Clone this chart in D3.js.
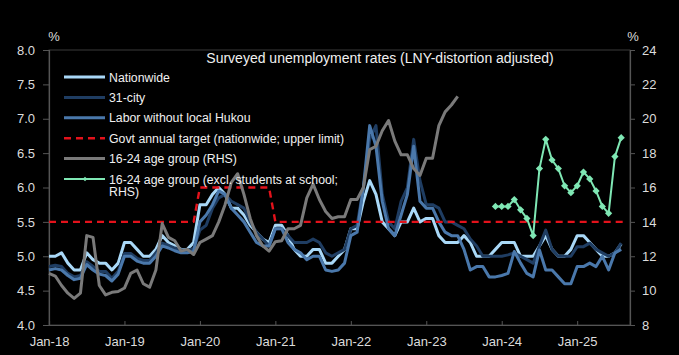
<!DOCTYPE html>
<html><head><meta charset="utf-8">
<script src="https://cdn.jsdelivr.net/npm/d3@7/dist/d3.min.js"></script>
<style>body{margin:0;background:#000;}svg{display:block;}</style>
</head><body>
<svg id="chart" width="679" height="355"></svg>
<script>
// ---------- DATA (monthly, Jan-18 onward) ----------
const months = d3.timeMonth.range(new Date(2018,0,1), new Date(2025,9,1)); // Jan-18 .. Sep-25
const xTickLabels = ["Jan-18","Jan-19","Jan-20","Jan-21","Jan-22","Jan-23","Jan-24","Jan-25"];
const leftTicks = [4.0,4.5,5.0,5.5,6.0,6.5,7.0,7.5,8.0];
const rightTicks = [8,10,12,14,16,18,20,22,24];

const nationwide = [
 5.0,5.0,5.05,4.9,4.8,4.8,5.05,4.95,4.9,4.9,4.8,4.9,
 5.2,5.2,5.1,5.0,5.0,5.1,5.3,5.2,5.15,5.1,5.1,5.2,
 5.75,5.75,5.9,6.0,5.9,5.7,5.7,5.6,5.45,5.35,5.25,5.2,
 5.45,5.45,5.3,5.1,5.0,5.0,5.1,5.1,4.9,4.9,5.0,5.1,
 5.4,5.4,5.8,6.1,5.9,5.5,5.4,5.3,5.5,5.5,5.7,5.5,
 5.55,5.55,5.3,5.2,5.2,5.2,5.3,5.2,5.0,5.0,5.0,5.1,
 5.2,5.2,5.2,5.0,5.0,5.0,5.15,5.3,5.1,5.0,5.0,5.1,
 5.3,5.3,5.2,5.1,5.0,5.0,5.05,5.18];
const city31 = [
 4.85,4.87,4.85,4.75,4.7,4.72,4.92,4.85,4.78,4.78,4.68,4.78,
 5.04,5.04,4.97,4.94,4.94,5.05,5.19,5.16,5.12,5.09,5.09,5.11,
 5.38,5.45,5.7,5.85,5.9,5.8,5.75,5.7,5.5,5.35,5.25,5.15,
 5.4,5.4,5.3,5.2,5.2,5.2,5.25,5.2,5.05,5.0,5.05,5.1,
 5.4,5.45,6.0,6.7,6.9,5.9,5.5,5.4,5.8,6.0,6.7,6.1,
 5.75,5.75,5.7,5.5,5.5,5.45,5.4,5.25,5.15,5.0,5.0,5.0,
 5.0,5.02,5.05,5.0,4.95,4.9,5.15,5.38,5.1,5.0,5.0,5.0,
 5.14,5.14,5.19,5.1,5.05,5.0,5.05,5.19];
const migrant = [
 4.8,4.82,4.8,4.72,4.66,4.68,4.88,4.8,4.74,4.72,4.64,4.74,
 5.0,5.0,4.93,4.9,4.9,5.0,5.15,5.12,5.08,5.05,5.05,5.07,
 5.5,5.6,5.75,5.95,5.9,5.7,5.6,5.5,5.35,5.2,5.15,5.15,
 5.4,5.4,5.2,5.1,5.05,4.95,5.0,5.0,4.8,4.78,4.8,4.9,
 5.3,5.35,6.0,6.9,6.6,5.8,5.4,5.3,5.6,5.9,6.6,5.8,
 5.7,5.7,5.5,5.35,5.3,5.3,5.1,4.8,4.85,4.85,4.7,4.7,
 4.72,4.75,5.07,4.9,4.75,4.7,5.09,4.8,4.8,4.7,4.6,4.6,
 4.85,4.85,4.9,4.85,5.0,4.8,5.05,5.1];
const target = [
 5.5,5.5,5.5,5.5,5.5,5.5,5.5,5.5,5.5,5.5,5.5,5.5,
 5.5,5.5,5.5,5.5,5.5,5.5,5.5,5.5,5.5,5.5,5.5,5.5,
 6.0,6.0,6.0,6.0,6.0,6.0,6.0,6.0,6.0,6.0,6.0,6.0,
 5.5,5.5,5.5,5.5,5.5,5.5,5.5,5.5,5.5,5.5,5.5,5.5,
 5.5,5.5,5.5,5.5,5.5,5.5,5.5,5.5,5.5,5.5,5.5,5.5,
 5.5,5.5,5.5,5.5,5.5,5.5,5.5,5.5,5.5,5.5,5.5,5.5,
 5.5,5.5,5.5,5.5,5.5,5.5,5.5,5.5,5.5,5.5,5.5,5.5,
 5.5,5.5,5.5,5.5,5.5,5.5,5.5,5.5,5.5];
const youth = [ // Jan-18 .. Jun-23, RHS
 11.0,10.85,10.3,9.85,9.55,9.85,13.2,13.1,10.3,9.75,9.9,9.95,
 10.15,11.0,11.2,10.4,10.2,11.2,13.9,13.1,12.9,12.3,12.4,12.1,
 12.8,13.0,13.2,14.0,15.0,16.3,16.8,15.6,14.2,13.2,12.6,12.3,
 12.85,12.9,13.6,13.6,13.8,15.4,16.2,15.3,14.6,14.2,14.3,14.3,
 15.3,15.3,16.0,18.2,18.4,19.3,19.9,18.7,17.9,17.9,17.1,16.7,
 17.7,17.7,19.6,20.4,20.8,21.3];
const youthExStudentsStart = 71; // Dec-23
const youthExStudents = [ // Dec-23 .. Aug-25, RHS
 14.9,14.9,14.9,15.3,14.7,14.2,13.2,17.1,18.8,17.6,17.1,16.1,
 15.7,16.1,16.9,16.5,15.8,14.9,14.5,17.8,18.9];

const legendLabels = ["Nationwide","31-city","Labor without local Hukou",
 "Govt annual target (nationwide; upper limit)","16-24 age group (RHS)",
 ["16-24 age group (excl. students at school;","RHS)"]];

// ---------- STYLE ----------
const C = {nat:"#a9d8f7", city:"#1f3d62", mig:"#4a78ab", tgt:"#e3121b", youth:"#7a7a7a", yx:"#7fe7b4"};
const font = "'Liberation Sans', Arial, sans-serif";

const svg = d3.select("#chart");
svg.append("rect").attr("width",679).attr("height",355).attr("fill","#000");

const x = d3.scaleLinear().domain([0, 92.4]).range([49, 630]);
const yL = d3.scaleLinear().domain([4, 8]).range([325, 50]);
const yR = d3.scaleLinear().domain([8, 24]).range([325, 50]);

// plot frame
svg.append("rect").attr("x",49).attr("y",50).attr("width",581).attr("height",275)
  .attr("fill","none").attr("stroke","#3a3a3a").attr("stroke-width",1);

// axes
const axL = svg.append("g").attr("transform","translate(49,0)")
  .call(d3.axisLeft(yL).tickValues(leftTicks).tickFormat(d3.format(".1f")).tickSize(6).tickPadding(8));
const axR = svg.append("g").attr("transform","translate(630,0)")
  .call(d3.axisRight(yR).tickValues(rightTicks).tickFormat(d3.format("d")).tickSize(5).tickPadding(7));
const tickIdx = xTickLabels.map((d,i)=>i*12);
const axB = svg.append("g").attr("transform","translate(0,325)")
  .call(d3.axisBottom(x).tickValues(tickIdx).tickFormat((d,i)=>xTickLabels[i]).tickSize(-4).tickPadding(12));
[axL,axR,axB].forEach(g=>{
  g.select(".domain").attr("stroke","#555").attr("stroke-width",1.2);
  g.selectAll(".tick line").attr("stroke","#555");
  g.selectAll("text").attr("fill","#dcdcdc").style("font-family",font).style("font-size","13px");
});

// unit labels
svg.append("text").attr("x",54).attr("y",41).attr("text-anchor","middle").attr("fill","#dcdcdc")
  .style("font-family",font).style("font-size","13px").text("%");
svg.append("text").attr("x",633).attr("y",41).attr("text-anchor","middle").attr("fill","#dcdcdc")
  .style("font-family",font).style("font-size","13px").text("%");

// title
svg.append("text").attr("x",380).attr("y",62.5).attr("text-anchor","middle").attr("fill","#f0f0f0")
  .style("font-family",font).style("font-size","14px")
  .text("Surveyed unemployment rates (LNY-distortion adjusted)");

// lines
const lineL = d3.line().x((d,i)=>x(i)).y(d=>yL(d));
const addLine = (data, gen, color, w, dash) => svg.append("path").datum(data)
  .attr("d", gen).attr("fill","none").attr("stroke", color).attr("stroke-width", w)
  .attr("stroke-linejoin","round").attr("stroke-dasharray", dash || null);

addLine(nationwide, lineL, C.nat, 3);
addLine(city31, lineL, C.city, 3);
addLine(migrant, lineL, C.mig, 3);
addLine(target, lineL, C.tgt, 2.4, "7,5");
addLine(youth, d3.line().x((d,i)=>x(i)).y(d=>yR(d)), C.youth, 3);
const lineYX = d3.line().x((d,i)=>x(i+youthExStudentsStart)).y(d=>yR(d));
addLine(youthExStudents, lineYX, C.yx, 2);
const diamond = d3.symbol().type(d3.symbolSquare).size(26);
svg.append("g").selectAll("path").data(youthExStudents).join("path")
  .attr("d", diamond)
  .attr("transform",(d,i)=>`translate(${x(i+youthExStudentsStart)},${yR(d)}) rotate(45)`)
  .attr("fill", C.yx);

// legend
const lg = svg.append("g");
const rows = [
  {c:C.nat, w:3}, {c:C.city, w:3}, {c:C.mig, w:3},
  {c:C.tgt, w:2.4, dash:"7,5"}, {c:C.youth, w:3}, {c:C.yx, w:2, marker:true}];
rows.forEach((r,i)=>{
  const yy = 77 + i*20.4;
  lg.append("line").attr("x1",64).attr("x2",105).attr("y1",yy).attr("y2",yy)
    .attr("stroke",r.c).attr("stroke-width",r.w).attr("stroke-dasharray",r.dash||null);
  if (r.marker) lg.append("path").attr("d", d3.symbol().type(d3.symbolSquare).size(10))
    .attr("transform",`translate(85,${yy}) rotate(45)`).attr("fill",r.c);
  const lab = legendLabels[i];
  const t = lg.append("text").attr("x",109).attr("y",yy+4.5).attr("fill","#f0f0f0")
    .style("font-family",font).style("font-size","12.3px");
  if (Array.isArray(lab)) {
    lab.forEach((s,k)=>t.append("tspan").attr("x",109).attr("dy",k===0?0:12.5).text(s));
  } else t.text(lab);
});
</script>
</body></html>
